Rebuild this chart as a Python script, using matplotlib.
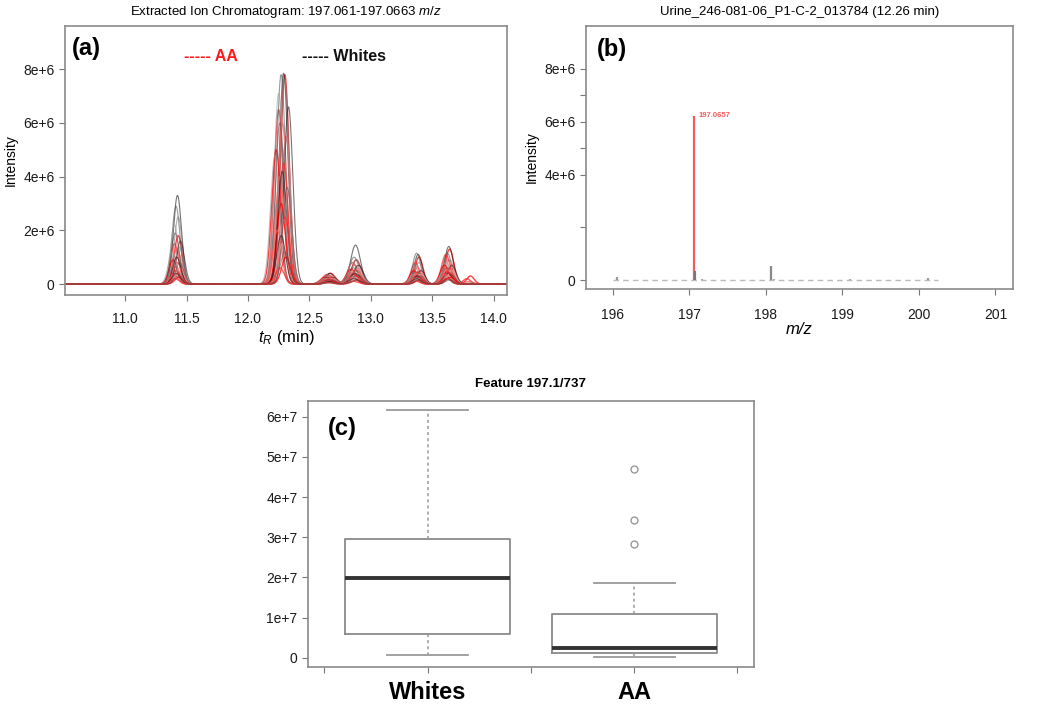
import numpy as np
import matplotlib.pyplot as plt

plt.rcParams['font.family'] = ['Liberation Sans', 'DejaVu Sans']
plt.rcParams['mathtext.fontset'] = 'custom'
plt.rcParams['mathtext.rm'] = 'Liberation Sans'
plt.rcParams['mathtext.it'] = 'Liberation Sans:italic'

# ---- panel (a): extracted ion chromatogram, peak tables
# peak groups: nominal retention time (min) and width (sigma, min)
peak_rt = [11.42, 12.28, 12.66, 12.87, 13.38, 13.63, 13.80]
peak_sd = [0.033, 0.036, 0.040, 0.040, 0.033, 0.035, 0.030]

# per-trace retention time shifts (min)
white_shift = [0.01, -0.01, 0.02, -0.03, 0.05, -0.02, 0.03, -0.06, 0.00, 0.04, -0.04, 0.01, -0.01, 0.02]
aa_shift = [0.02, -0.03, 0.00, 0.03, -0.05, 0.01, -0.02, 0.04, -0.01, 0.02, -0.04, 0.00, 0.03, -0.02]

# heights (x1e6) per trace for each peak group
white_h = [
    [3.30, 7.85, 0.40, 1.45, 1.10, 1.40, 0.00],
    [2.90, 7.80, 0.35, 1.00, 1.15, 1.15, 0.00],
    [2.50, 7.60, 0.30, 0.90, 0.80, 0.90, 0.05],
    [2.20, 7.10, 0.30, 0.80, 0.60, 0.80, 0.00],
    [1.60, 6.60, 0.25, 0.70, 0.50, 0.70, 0.00],
    [1.90, 6.00, 0.25, 0.60, 0.45, 0.60, 0.00],
    [1.40, 5.40, 0.20, 0.50, 0.40, 0.50, 0.00],
    [1.20, 4.80, 0.20, 0.45, 0.35, 0.45, 0.00],
    [1.00, 4.20, 0.15, 0.40, 0.30, 0.40, 0.00],
    [0.80, 3.60, 0.15, 0.35, 0.30, 0.35, 0.00],
    [0.70, 3.00, 0.10, 0.30, 0.25, 0.30, 0.00],
    [0.50, 2.40, 0.10, 0.25, 0.20, 0.25, 0.00],
    [0.40, 1.80, 0.10, 0.20, 0.20, 0.20, 0.00],
    [0.30, 1.20, 0.05, 0.15, 0.15, 0.15, 0.00],
]
aa_h = [
    [1.80, 7.80, 0.40, 0.90, 1.00, 1.30, 0.30],
    [1.50, 6.50, 0.35, 0.80, 0.80, 1.10, 0.20],
    [1.30, 6.00, 0.30, 0.70, 0.60, 0.90, 0.10],
    [1.10, 5.50, 0.30, 0.60, 0.55, 0.80, 0.00],
    [0.90, 5.00, 0.25, 0.55, 0.50, 0.70, 0.00],
    [0.80, 4.50, 0.25, 0.50, 0.45, 0.60, 0.00],
    [0.70, 4.00, 0.20, 0.45, 0.40, 0.55, 0.00],
    [0.60, 3.50, 0.20, 0.40, 0.35, 0.50, 0.00],
    [0.50, 3.00, 0.15, 0.35, 0.30, 0.45, 0.00],
    [0.40, 2.50, 0.15, 0.30, 0.25, 0.40, 0.00],
    [0.35, 2.00, 0.10, 0.25, 0.20, 0.35, 0.00],
    [0.30, 1.50, 0.10, 0.20, 0.20, 0.30, 0.00],
    [0.25, 1.00, 0.10, 0.15, 0.15, 0.25, 0.00],
    [0.20, 0.60, 0.05, 0.10, 0.10, 0.20, 0.00],
]
white_colors = ['#1a1a1a', '#555555', '#7a7a7a', '#9a9a9a']
aa_colors = ['#ff0000', '#ff2a2a', '#ff5c5c', '#ff8c8c']

# ---- panel (b): mass spectrum at 12.26 min
spec_mz = [196.05, 197.0657, 197.08, 197.16, 198.07, 198.10, 199.10, 200.12]
spec_int = [0.12e6, 6.22e6, 0.35e6, 0.05e6, 0.55e6, 0.05e6, 0.04e6, 0.06e6]
spec_col = ['#999999', '#f25c5c', '#777777', '#aaaaaa', '#888888', '#aaaaaa', '#aaaaaa', '#999999']
noise_range = [196.0, 200.25]

# ---- panel (c): boxplot stats of feature 197.1/737
groups = ['Whites', 'AA']
q1 = [5.8e6, 1.1e6]
med = [1.98e7, 2.4e6]
q3 = [2.96e7, 1.1e7]
whis_lo = [0.67e6, 0.25e6]
whis_hi = [6.16e7, 1.87e7]
outliers = [[], [4.71e7, 3.43e7, 2.83e7]]

fig = plt.figure(figsize=(10.5, 7.08), dpi=100)
spine_col = '#8a8a8a'


def style_axes(ax):
    for s in ax.spines.values():
        s.set_color(spine_col)
        s.set_linewidth(1.2)
    ax.tick_params(colors='#777777', labelcolor='#1a1a1a', labelsize=10, length=4)


# (a)
ax1 = fig.add_axes([0.0619, 0.5833, 0.421, 0.380])
t = np.linspace(10.5, 14.15, 1500)
n = max(len(white_h), len(aa_h))
for i in range(n):
    for heights, shifts, cols, lw, al in ((aa_h, aa_shift, aa_colors, 1.0, 0.75),
                                          (white_h, white_shift, white_colors, 0.8, 0.6)):
        y = np.zeros_like(t)
        for k, h in enumerate(heights[i]):
            c = peak_rt[k] + shifts[i] * (1.0 if k == 1 else 0.6)
            y += h * 1e6 * np.exp(-0.5 * ((t - c) / peak_sd[k]) ** 2)
        y = np.minimum(y, 7.85e6)
        ax1.plot(t, y, color=cols[i % len(cols)], lw=lw, alpha=al)
ax1.set_xlim(10.51, 14.11)
ax1.set_ylim(-0.41e6, 9.61e6)
ax1.set_xticks([11.0, 11.5, 12.0, 12.5, 13.0, 13.5, 14.0])
ax1.set_yticks([0, 2e6, 4e6, 6e6, 8e6])
ax1.set_yticklabels(['0', '2e+6', '4e+6', '6e+6', '8e+6'])
style_axes(ax1)
ax1.tick_params(axis='x', pad=8)
ax1.set_ylabel('Intensity', fontsize=10, labelpad=4)
ax1.set_xlabel('$t_R$ (min)', fontsize=12, labelpad=2)
ax1.set_title('Extracted Ion Chromatogram: 197.061-197.0663 $\\it{m/z}$', fontsize=9.5, pad=8)
ax1.text(0.015, 0.96, '(a)', transform=ax1.transAxes, fontsize=17, fontweight='bold', va='top')
ax1.text(0.27, 0.885, '----- AA', transform=ax1.transAxes, fontsize=11.5, fontweight='bold',
         color='#ff1a1a', va='center')
ax1.text(0.537, 0.885, '----- Whites', transform=ax1.transAxes, fontsize=11.5, fontweight='bold',
         color='#111111', va='center')

# (b)
ax2 = fig.add_axes([0.5581, 0.5918, 0.4067, 0.3715])
ax2.hlines(0, noise_range[0], noise_range[1], color='#bbbbbb', lw=1, linestyles=(0, (4, 3)))
ax2.vlines(spec_mz, 0, spec_int, colors=spec_col, lw=1.6)
top = int(np.argmax(spec_int))
ax2.annotate(f'{spec_mz[top]:.4f}', (spec_mz[top], spec_int[top]), xytext=(3, 0),
             textcoords='offset points', color='#f25c5c', fontsize=5.5, fontweight='bold',
             va='center', ha='left')
ax2.set_xlim(195.65, 201.23)
ax2.set_ylim(-0.34e6, 9.63e6)
ax2.set_xticks([196, 197, 198, 199, 200, 201])
ax2.set_yticks([0, 2e6, 4e6, 5e6, 6e6, 7e6, 8e6])
ax2.set_yticklabels(['0', '', '4e+6', '', '6e+6', '', '8e+6'])
style_axes(ax2)
ax2.tick_params(axis='x', pad=10)
ax2.set_ylabel('Intensity', fontsize=10, labelpad=4)
ax2.set_xlabel('m/z', fontsize=12, fontstyle='italic', labelpad=0)
ax2.set_title('Urine_246-081-06_P1-C-2_013784 (12.26 min)', fontsize=9.5, pad=8)
ax2.text(0.025, 0.955, '(b)', transform=ax2.transAxes, fontsize=17, fontweight='bold', va='top')

# (c)
ax3 = fig.add_axes([0.2933, 0.0579, 0.4248, 0.3757])
stats = []
for i, g in enumerate(groups):
    stats.append(dict(label=g, q1=q1[i], med=med[i], q3=q3[i],
                      whislo=whis_lo[i], whishi=whis_hi[i], fliers=outliers[i]))
ax3.bxp(stats, positions=[1, 2], widths=0.8, showfliers=True,
        boxprops=dict(color='#8a8a8a', lw=1.3),
        medianprops=dict(color='#333333', lw=2.8),
        whiskerprops=dict(color='#9a9a9a', lw=1.1, linestyle=(0, (2, 2))),
        capprops=dict(color='#9a9a9a', lw=1.3),
        capwidths=0.39,
        flierprops=dict(marker='o', markerfacecolor='none', markeredgecolor='#999999',
                        markersize=5, markeredgewidth=1))
ax3.set_xlim(0.42, 2.58)
ax3.set_ylim(-0.23e7, 6.39e7)
ax3.set_xticks([0.5, 1, 1.5, 2, 2.5])
ax3.set_xticklabels(['', groups[0], '', groups[1], ''], fontsize=17, fontweight='bold')
ax3.set_yticks([0, 1e7, 2e7, 3e7, 4e7, 5e7, 6e7])
ax3.set_yticklabels(['0', '1e+7', '2e+7', '3e+7', '4e+7', '5e+7', '6e+7'])
style_axes(ax3)
ax3.tick_params(axis='x', labelsize=17, pad=6, labelcolor='#000000')
ax3.set_title('Feature 197.1/737', fontsize=9.5, fontweight='bold', pad=10)
ax3.text(0.045, 0.94, '(c)', transform=ax3.transAxes, fontsize=17, fontweight='bold', va='top')

fig.savefig('out.png', dpi=100)
